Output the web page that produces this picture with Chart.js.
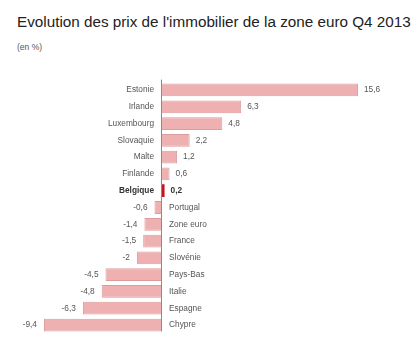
<!DOCTYPE html>
<html>
<head>
<meta charset="utf-8">
<script src="https://cdn.jsdelivr.net/npm/chart.js@4"></script>
<style>
    body { margin: 0; background: #fff; width: 416px; height: 358px; overflow: hidden; position: relative; font-family: "Liberation Sans", Arial, sans-serif; }
    #title { position: absolute; left: 17px; top: 13px; font-size: 15.25px; color: #222; white-space: nowrap; }
    #sub { position: absolute; left: 17px; top: 42px; font-size: 8.5px; color: #555; }
    #wrap { position: absolute; left: 0; top: 0; width: 416px; height: 358px; }
</style>
</head>
<body>
<div id="title">Evolution des prix de l'immobilier de la zone euro Q4 2013</div>
<div id="sub">(en %)</div>
<div id="wrap"><canvas id="chart" width="416" height="358"></canvas></div>
<script>
const countries = ["Estonie", "Irlande", "Luxembourg", "Slovaquie", "Malte", "Finlande", "Belgique",
    "Portugal", "Zone euro", "France", "Slovénie", "Pays-Bas", "Italie", "Espagne", "Chypre"]
const values = [15.6, 6.3, 4.8, 2.2, 1.2, 0.6, 0.2, -0.6, -1.4, -1.5, -2, -4.5, -4.8, -6.3, -9.4]
const highlight = "Belgique"

const fill = countries.map(c => c === highlight ? '#c8101a' : '#eeb0b0')
const border = countries.map(c => c === highlight ? '#c8101a' : '#dc9c9c')
const borderW = countries.map(c => c === highlight ? 0 : 1)

const fmt = v => String(v).replace('.', ',')

const labelPlugin = {
    id: 'labels',
    afterDatasetsDraw(chart) {
        const ctx = chart.ctx
        const meta = chart.getDatasetMeta(0)
        const zero = chart.scales.x.getPixelForValue(0)
        const area = chart.chartArea
        ctx.save()
        // axe zéro
        ctx.strokeStyle = '#8a8a8a'
        ctx.lineWidth = 1
        ctx.beginPath()
        ctx.moveTo(Math.round(zero) - 0.5, area.top - 2)
        ctx.lineTo(Math.round(zero) - 0.5, area.bottom - 2)
        ctx.stroke()
        ctx.textBaseline = 'middle'
        meta.data.forEach((bar, i) => {
            const v = values[i]
            const bold = countries[i] === highlight
            ctx.font = (bold ? 'bold ' : '') + '8.3px "Liberation Sans", Arial, sans-serif'
            ctx.fillStyle = bold ? '#333' : '#555'
            if (v >= 0) {
                ctx.textAlign = 'right'
                ctx.fillText(countries[i], zero - 8, bar.y)
                ctx.textAlign = 'left'
                ctx.fillText(fmt(v), bar.x + 6, bar.y)
            } else {
                ctx.textAlign = 'left'
                ctx.fillText(countries[i], zero + 7, bar.y)
                ctx.textAlign = 'right'
                ctx.fillText(fmt(v), bar.x - 7, bar.y)
            }
        })
        ctx.restore()
    }
}

new Chart(document.getElementById('chart').getContext('2d'), {
    type: 'bar',
    data: {
        labels: countries,
        datasets: [{
            data: values,
            backgroundColor: fill,
            borderColor: border,
            borderWidth: borderW,
            borderSkipped: 'start',
            categoryPercentage: 1,
            barPercentage: 0.76
        }]
    },
    options: {
        indexAxis: 'y',
        responsive: false,
        animation: false,
        layout: { padding: { top: 81.6, bottom: 24.6, left: 0, right: 0 } },
        plugins: { legend: { display: false }, tooltip: { enabled: false } },
        scales: {
            x: { display: false, min: -12.9, max: 20.22 },
            y: { display: false }
        }
    },
    plugins: [labelPlugin]
})
</script>
</body>
</html>
